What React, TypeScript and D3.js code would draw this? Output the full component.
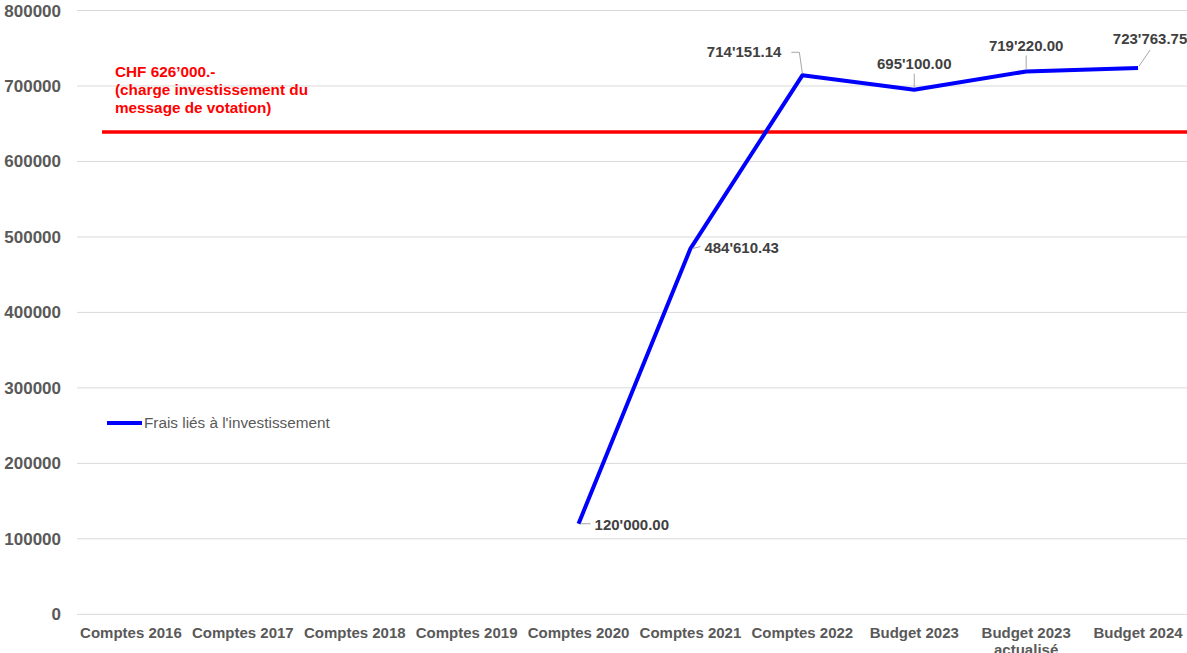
import React from "react";
import * as d3 from "d3";

const categories = [
  "Comptes 2016",
  "Comptes 2017",
  "Comptes 2018",
  "Comptes 2019",
  "Comptes 2020",
  "Comptes 2021",
  "Comptes 2022",
  "Budget 2023",
  "Budget 2023 actualisé",
  "Budget 2024",
];
const values: (number | null)[] = [null, null, null, null, 120000, 484610.43, 714151.14, 695100, 719220, 723763.75];
const valueLabels = ["", "", "", "", "120'000.00", "484'610.43", "714'151.14", "695'100.00", "719'220.00", "723'763.75"];
const yTicks = [0, 100000, 200000, 300000, 400000, 500000, 600000, 700000, 800000];
const thresholdValue = 639000;
const thresholdLines = ["CHF 626’000.-", "(charge investissement du", "message de votation)"];
const seriesName = "Frais liés à l'investissement";

const W = 1187;
const H = 653;

const labelPlacement: Record<number, { dx: number; dy: number; anchor: string; leader: [number, number][] }> = {
  4: { dx: 16, dy: 6, anchor: "start", leader: [[2, 0], [12, 0]] },
  5: { dx: 14, dy: 4, anchor: "start", leader: [[2, 0], [10, -2]] },
  6: { dx: -21, dy: -18, anchor: "end", leader: [[0, -2], [-3, -23], [-11, -23]] },
  7: { dx: 0, dy: -21, anchor: "middle", leader: [[0, -2], [0, -16]] },
  8: { dx: 0, dy: -20, anchor: "middle", leader: [[0, -2], [0, -16]] },
  9: { dx: 12, dy: -24, anchor: "middle", leader: [[1, -2], [12, -18]] },
};

export default function App() {
  const x = d3.scaleBand<string>().domain(categories).range([75, 1194]);
  const y = d3.scaleLinear().domain([0, 800000]).range([614.3, 10.5]);
  const cx = (c: string) => (x(c) as number) + x.bandwidth() / 2;

  const pts = categories
    .map((c, i) => ({ c, v: values[i], i }))
    .filter((d) => d.v !== null) as { c: string; v: number; i: number }[];
  const line = d3
    .line<{ c: string; v: number }>()
    .x((d) => cx(d.c))
    .y((d) => y(d.v));

  const textColor = "#595959";
  const font = "Liberation Sans, Arial, sans-serif";

  return (
    <svg width={W} height={H} style={{ position: "absolute", left: 0, top: 0 }} fontFamily={font}>
      <rect width={W} height={H} fill="#fff" />
      {yTicks.map((t) => (
        <g key={t}>
          <line x1={77} x2={W} y1={y(t)} y2={y(t)} stroke="#d9d9d9" strokeWidth={1} />
          <text x={61} y={y(t) + 6} textAnchor="end" fontSize={17} fontWeight="bold" fill={textColor}>
            {t}
          </text>
        </g>
      ))}
      {categories.map((c) => {
        const words = c === "Budget 2023 actualisé" ? ["Budget 2023", "actualisé"] : [c];
        return (
          <text key={c} x={cx(c)} y={638} textAnchor="middle" fontSize={15} fontWeight="bold" fill={textColor}>
            {words.map((w, k) => (
              <tspan key={k} x={cx(c)} dy={k === 0 ? 0 : 17}>
                {w}
              </tspan>
            ))}
          </text>
        );
      })}
      <line x1={102} x2={W} y1={y(thresholdValue)} y2={y(thresholdValue)} stroke="#ff0000" strokeWidth={3.5} />
      {thresholdLines.map((t, k) => (
        <text key={k} x={115} y={77 + k * 18} fontSize={15.3} fontWeight="bold" fill="#ff0000">
          {t}
        </text>
      ))}
      <path d={line(pts) || ""} fill="none" stroke="#0000ff" strokeWidth={4} strokeLinejoin="round" />
      {pts.map((p) => {
        const px = cx(p.c);
        const py = y(p.v);
        const pl = labelPlacement[p.i];
        const ld = pl.leader.map(([a, b], k) => `${k === 0 ? "M" : "L"}${px + a},${py + b}`).join("");
        return (
          <g key={p.c}>
            <path d={ld} fill="none" stroke="#a6a6a6" strokeWidth={1} />
            <text
              x={px + pl.dx}
              y={py + pl.dy}
              textAnchor={pl.anchor as any}
              fontSize={15}
              fontWeight="bold"
              fill="#404040"
            >
              {valueLabels[p.i]}
            </text>
          </g>
        );
      })}
      <line x1={107} x2={142} y1={423} y2={423} stroke="#0000ff" strokeWidth={4} />
      <text x={144} y={428} fontSize={15.3} fill={textColor}>
        {seriesName}
      </text>
    </svg>
  );
}
